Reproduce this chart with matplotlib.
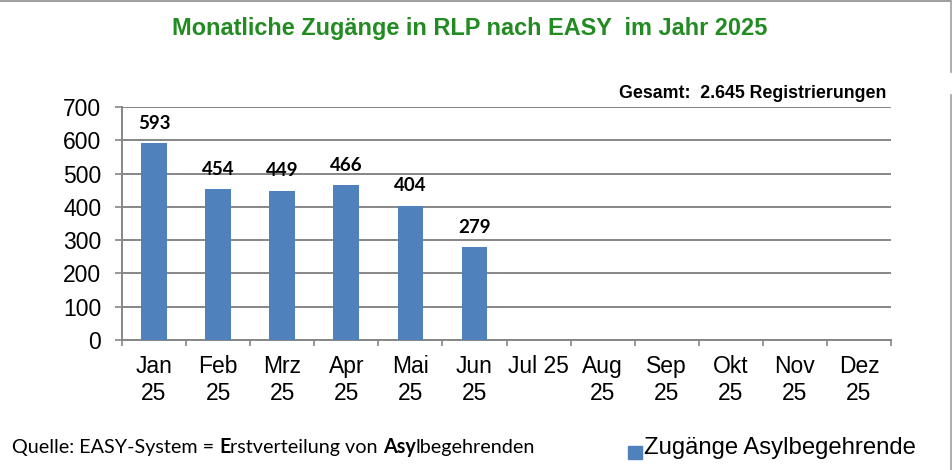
import matplotlib
matplotlib.use("Agg")
import matplotlib.pyplot as plt
from matplotlib.lines import Line2D

months = ["Jan\n25", "Feb\n25", "Mrz\n25", "Apr\n25", "Mai\n25", "Jun\n25",
          "Jul 25", "Aug\n25", "Sep\n25", "Okt\n25", "Nov\n25", "Dez\n25"]
values = [593, 454, 449, 466, 404, 279]
value_labels = ["593", "454", "449", "466", "404", "279"]
y_ticks = [0, 100, 200, 300, 400, 500, 600, 700]

title = "Monatliche Zugänge in RLP nach EASY  im Jahr 2025"
total_text = "Gesamt:  2.645 Registrierungen"
legend_label = "Zugänge Asylbegehrende"
source_parts = [("Quelle: EASY-System = ", "normal"), ("E", "bold"),
                ("rstverteilung von ", "normal"), ("Asy", "bold"),
                ("lbegehrenden", "normal")]

BAR = "#4F81BD"
GRID = "#868686"
ARIAL = "Liberation Sans"
CALIBRI = "Lato"

fig = plt.figure(figsize=(9.52, 4.70), dpi=100)
ax = fig.add_axes([122/952, 1-340/470, (891-122)/952, (340-107)/470])

x = list(range(len(values)))
ax.bar(x, values, width=0.4, color=BAR, zorder=3)
for xi, v, lab in zip(x, values, value_labels):
    ax.annotate(lab, (xi, v), xytext=(0, 8), textcoords="offset points",
                ha="center", va="bottom", fontsize=13.5, fontweight="bold",
                family=CALIBRI, color="black")

ax.set_xlim(-0.5, len(months) - 0.5)
ax.set_ylim(0, 700)
ax.set_yticks(y_ticks)
ax.set_yticklabels([str(t) for t in y_ticks], family=ARIAL, fontsize=16.5)
ax.yaxis.grid(True, color=GRID, linewidth=1.4, zorder=0)
ax.set_axisbelow(True)

ax.set_xticks([i - 0.5 for i in range(len(months) + 1)])
ax.set_xticklabels([])
ax.set_xticks(range(len(months)), minor=True)
ax.set_xticklabels(months, minor=True, family=ARIAL, fontsize=16.5,
                   linespacing=1.2)
ax.tick_params(axis="x", which="minor", length=0, pad=11)
ax.tick_params(axis="x", which="major", length=4, width=1.2, color=GRID,
               direction="out")
ax.tick_params(axis="y", length=5, width=1.2, color=GRID, pad=10)

for s in ["top", "right"]:
    ax.spines[s].set_visible(False)
for s in ["left", "bottom"]:
    ax.spines[s].set_color(GRID)
    ax.spines[s].set_linewidth(1.4)

fig.text(470/952, 1-28/470, title, ha="center", va="center", family=ARIAL,
         fontsize=16.9, fontweight="bold", color="#228B22")
fig.text(886/952, 1-93/470, total_text, ha="right", va="center",
         family=ARIAL, fontsize=12.8, fontweight="bold", color="black")

# legend
fig.patches.append(plt.Rectangle((628/952, 1-459/470), 14/952, 13/470,
                                 transform=fig.transFigure, color=BAR,
                                 figure=fig))
fig.text(644/952, 1-448/470, legend_label, ha="left", va="center",
         family=ARIAL, fontsize=17.2, color="black")

# source text with mixed weights
fig.canvas.draw()
renderer = fig.canvas.get_renderer()
xpos = 12
for txt, w in source_parts:
    t = fig.text(xpos/952, 1-447/470, txt, ha="left", va="center",
                 family=CALIBRI, fontsize=14.2, fontweight=w, color="black")
    bb = t.get_window_extent(renderer)
    xpos = bb.x1

# frame lines of the screenshot
fig.add_artist(Line2D([0, 950/952], [1-1/470, 1-1/470], transform=fig.transFigure,
                      color="#A0A0A0", linewidth=1.5))
fig.add_artist(Line2D([950.5/952, 950.5/952], [1, 1-72/470], transform=fig.transFigure,
                      color="#A0A0A0", linewidth=1.2))
fig.add_artist(Line2D([950.5/952, 950.5/952], [1-95/470, 0], transform=fig.transFigure,
                      color="#A0A0A0", linewidth=1.2))

fig.savefig("out.png", dpi=100)
